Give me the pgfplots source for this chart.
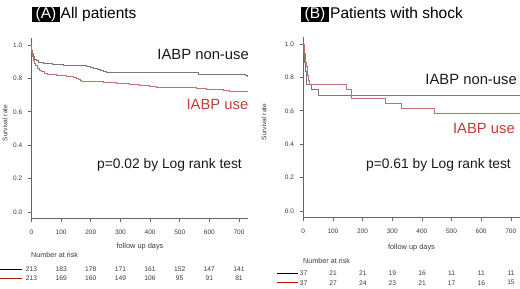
\documentclass[border=0pt]{standalone}
\usepackage{fontspec}
\setmainfont{Liberation Sans}
\usepackage{pgfplots}
\pgfplotsset{compat=1.18}
\definecolor{nonuse}{HTML}{787878}
\definecolor{use}{HTML}{C46E6E}
\definecolor{uselab}{HTML}{C43C3C}
\definecolor{legred}{HTML}{B01515}
\definecolor{tl}{HTML}{3A3A3A}
\pgfplotsset{
  kmaxis/.style={
    scale only axis, width=216.4pt, height=180.4pt,
    xmin=0, xmax=730, ymin=-0.04, ymax=1.04,
    axis x line*=bottom, axis y line*=left,
    axis line style={color=gray!80!black, line width=0.8pt, -},
    xtick={0,100,200,300,400,500,600,700},
    ytick={0,0.2,0.4,0.6,0.8,1.0},
    tick align=outside, major tick length=3.5pt,
    tick style={color=gray!80!black, line width=0.6pt},
    /pgf/number format/assume math mode=true,
    ticklabel style={font=\fontsize{6.5}{7}\selectfont, color=tl},
    yticklabel style={xshift=-2.3pt, /pgf/number format/.cd, fixed, fixed zerofill, precision=1},
    xticklabel style={yshift=-4.5pt, /pgf/number format/.cd, fixed, precision=0},
    clip=false,
  }
}
\begin{document}
\begin{tikzpicture}
\useasboundingbox (0,0) rectangle (520pt,289pt);
% ---------------- Panel A ----------------
\begin{axis}[kmaxis, at={(31.5pt,70.3pt)}, anchor=south west]
\addplot[const plot, color=nonuse, line width=0.85pt] coordinates {
(0,1.0)(1,0.97)(3,0.95)(6,0.93)(10,0.915)(15,0.905)(25,0.897)(40,0.89)(70,0.885)(107,0.88)(150,0.876)(186,0.872)(200,0.866)(208,0.86)(222,0.855)(231,0.85)(242,0.844)(253,0.838)(270,0.836)(562,0.826)(722,0.818)(728,0.812)(730,0.812)};
\addplot[const plot, color=use, line width=0.85pt] coordinates {
(0,1.0)(1,0.96)(3,0.93)(6,0.91)(9,0.89)(14,0.875)(19,0.86)(26,0.85)(34,0.84)(45,0.832)(55,0.826)(85,0.82)(118,0.812)(141,0.805)(150,0.80)(158,0.795)(165,0.79)(169,0.784)(220,0.78)(242,0.776)(287,0.77)(332,0.765)(365,0.757)(399,0.753)(422,0.747)(480,0.743)(556,0.74)(590,0.735)(620,0.731)(646,0.727)(668,0.722)(730,0.722)};
\end{axis}
% ---------------- Panel B ----------------
\begin{axis}[kmaxis, at={(303.3pt,71.3pt)}, anchor=south west]
\addplot[const plot, color=nonuse, line width=0.85pt] coordinates {
(0,1.0)(2,0.946)(4,0.892)(7,0.838)(9,0.784)(12,0.757)(29,0.73)(51,0.69)(730,0.69)};
\addplot[const plot, color=use, line width=0.85pt] coordinates {
(0,1.0)(3,0.946)(6,0.892)(9,0.865)(13,0.811)(18,0.784)(22,0.757)(147,0.727)(164,0.676)(276,0.645)(332,0.615)(444,0.585)(730,0.585)};
\end{axis}
% ---------------- Titles ----------------
\node[fill=black, text=white, inner xsep=3.5pt, inner ysep=0.75pt, text height=10.5pt, text depth=3pt, anchor=base west, font=\fontsize{15.5}{16}\selectfont] at (32pt,270.7pt) {(A)};
\node[inner sep=0pt, anchor=base west, font=\fontsize{15.5}{16}\selectfont] at (60.5pt,270.7pt) {All patients};
\node[fill=black, text=white, inner xsep=3.5pt, inner ysep=0.75pt, text height=10.5pt, text depth=3pt, anchor=base west, font=\fontsize{15.5}{16}\selectfont] at (301pt,270.7pt) {(B)};
\node[inner sep=0pt, anchor=base west, font=\fontsize{15.5}{16}\selectfont] at (330pt,270.7pt) {Patients with shock};
% ---------------- Annotations ----------------
\node[inner sep=0pt, anchor=base east, font=\fontsize{14.8}{15}\selectfont, text=black!90] at (249pt,229.7pt) {IABP non-use};
\node[inner sep=0pt, anchor=base east, font=\fontsize{14.8}{15}\selectfont, text=uselab] at (248.5pt,179pt) {IABP use};
\node[inner sep=0pt, anchor=base east, font=\fontsize{13.8}{14}\selectfont, text=black!90] at (242pt,120.5pt) {p=0.02 by Log rank test};
\node[inner sep=0pt, anchor=base east, font=\fontsize{14.8}{15}\selectfont, text=black!90] at (517pt,204.7pt) {IABP non-use};
\node[inner sep=0pt, anchor=base east, font=\fontsize{14.8}{15}\selectfont, text=uselab] at (515pt,155.7pt) {IABP use};
\node[inner sep=0pt, anchor=base east, font=\fontsize{13.8}{14}\selectfont, text=black!90] at (511pt,120.7pt) {p=0.61 by Log rank test};
% ---------------- Axis labels ----------------
\node[rotate=90, inner sep=0pt, font=\fontsize{6.6}{7}\selectfont, text=tl] at (5pt,166pt) {Survival rate};
\node[rotate=90, inner sep=0pt, font=\fontsize{6.6}{7}\selectfont, text=tl] at (264pt,167pt) {Survival rate};
\node[inner sep=0pt, font=\fontsize{7.4}{8}\selectfont, text=tl] at (140pt,42pt) {follow up days};
\node[inner sep=0pt, font=\fontsize{7.4}{8}\selectfont, text=tl] at (411.5pt,41pt) {follow up days};
% ---------------- Number at risk ----------------
\node[inner sep=0pt, anchor=west, font=\fontsize{7.2}{8}\selectfont, text=tl] at (31pt,34pt) {Number at risk};
\node[inner sep=0pt, anchor=west, font=\fontsize{7.2}{8}\selectfont, text=tl] at (303pt,28.3pt) {Number at risk};
\draw[black, line width=1.4pt] (0pt,19.6pt) -- (21.5pt,19.6pt);
\draw[legred, line width=1.4pt] (0pt,10.7pt) -- (21.5pt,10.7pt);
\draw[black, line width=1.4pt] (277pt,15.7pt) -- (298pt,15.7pt);
\draw[legred, line width=1.4pt] (277pt,6.3pt) -- (298pt,6.3pt);
\foreach \n [count=\i from 0] in {213,183,178,171,161,152,147,141}
  \node[inner sep=0pt, font=\fontsize{6.7}{7}\selectfont, text=tl] at ({31.5pt+\i*29.64pt},19.7pt) {\n};
\foreach \n [count=\i from 0] in {213,169,160,149,106,95,91,81}
  \node[inner sep=0pt, font=\fontsize{6.7}{7}\selectfont, text=tl] at ({31.5pt+\i*29.64pt},10.7pt) {\n};
\foreach \n [count=\i from 0] in {37,21,21,19,16,11,11,11}
  \node[inner sep=0pt, font=\fontsize{6.7}{7}\selectfont, text=tl] at ({303.5pt+\i*29.64pt},15.7pt) {\n};
\foreach \n [count=\i from 0] in {37,27,24,23,21,17,16,15}
  \node[inner sep=0pt, font=\fontsize{6.7}{7}\selectfont, text=tl] at ({303.5pt+\i*29.64pt},6.3pt) {\n};
\end{tikzpicture}
\end{document}
